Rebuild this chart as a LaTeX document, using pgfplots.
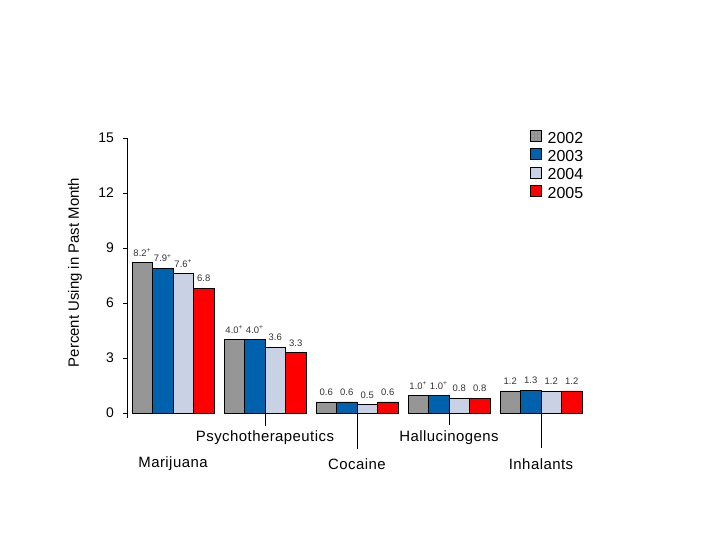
\documentclass[border=0pt]{standalone}
\usepackage{pgfplots}
\pgfplotsset{compat=1.18}
\usepackage{fontspec}
\setmainfont{Liberation Sans}
\newfontfamily\catfont[LetterSpace=3]{Liberation Sans}
\definecolor{c2002}{HTML}{969696}
\definecolor{c2003}{HTML}{0062AC}
\definecolor{c2004}{HTML}{C8D2E4}
\definecolor{c2005}{HTML}{FF0000}
\begin{document}
\begin{tikzpicture}
\path[use as bounding box, fill=white] (0bp,0bp) rectangle (720bp,540bp);
\begin{axis}[
  at={(127bp,127bp)}, anchor=south west,
  scale only axis, width=460bp, height=275bp,
  xmin=-0.5, xmax=4.5, ymin=0, ymax=15,
  ybar=0pt, bar width=0.2228,
  axis x line=none, axis y line*=left,
  y axis line style={black, line width=0.6bp},
  ytick={0,3,6,9,12,15}, xtick=\empty,
  tick align=outside, major tick length=4bp,
  ytick style={black, line width=0.6bp},
  /pgf/number format/assume math mode=true,
  yticklabel style={font=\fontsize{14}{15}\selectfont, inner sep=3bp, xshift=-6bp},
  ylabel={Percent Using in Past Month},
  ylabel style={at={(axis description cs:-0.113,0.511)}, anchor=center, font=\fontsize{15}{16}\selectfont},
  clip=false,
  point meta=explicit symbolic,
  nodes near coords,
  every node near coord/.append style={font=\fontsize{9.5}{10}\selectfont, inner sep=1bp, yshift=5bp, text=black!80},
  legend style={at={(axis description cs:0.876,1.029)}, anchor=north west, draw=none, fill=none,
    inner sep=0pt, row sep=0pt, column sep=6bp,
    nodes={inner sep=0pt, text height=12bp, text depth=5bp},
    font=\fontsize{16}{17}\selectfont},
  legend cell align=left,
  legend image code/.code={\draw[#1, line width=0.5bp] (0bp,-1.5bp) rectangle (11bp,9.5bp);},
]
\addplot[fill=c2002, draw=black, line width=0.5bp] coordinates {
  (0,8.2) [8.2\textsuperscript{+}]
  (1,4.0) [4.0\textsuperscript{+}]
  (2,0.6) [0.6]
  (3,0.95) [1.0\textsuperscript{+}]
  (4,1.2) [1.2]
};
\addplot[fill=c2003, draw=black, line width=0.5bp] coordinates {
  (0,7.9) [7.9\textsuperscript{+}]
  (1,4.0) [4.0\textsuperscript{+}]
  (2,0.6) [0.6]
  (3,0.95) [1.0\textsuperscript{+}]
  (4,1.25) [1.3]
};
\addplot[fill=c2004, draw=black, line width=0.5bp] coordinates {
  (0,7.6) [7.6\textsuperscript{+}]
  (1,3.6) [3.6]
  (2,0.45) [0.5]
  (3,0.8) [0.8]
  (4,1.2) [1.2]
};
\addplot[fill=c2005, draw=black, line width=0.5bp] coordinates {
  (0,6.8) [6.8]
  (1,3.3) [3.3]
  (2,0.6) [0.6]
  (3,0.8) [0.8]
  (4,1.2) [1.2]
};
\legend{2002,2003,2004,2005}
\draw[black, line width=0.6bp] (axis cs:-0.5,0) -- ++(0bp,-5bp);
\draw[black, line width=0.6bp] (axis cs:1,0) -- ++(0bp,-13bp);
\draw[black, line width=0.6bp] (axis cs:2,0) -- ++(0bp,-36bp);
\draw[black, line width=0.6bp] (axis cs:3,0) -- ++(0bp,-12bp);
\draw[black, line width=0.6bp] (axis cs:4,0) -- ++(0bp,-35bp);
\node[font=\catfont\fontsize{15}{16}\selectfont] at (axis cs:1,0) [yshift=-25bp] {Psychotherapeutics};
\node[font=\catfont\fontsize{15}{16}\selectfont] at (axis cs:3,0) [yshift=-25bp] {Hallucinogens};
\node[font=\catfont\fontsize{15}{16}\selectfont] at (axis cs:0,0) [yshift=-51bp] {Marijuana};
\node[font=\catfont\fontsize{15}{16}\selectfont] at (axis cs:2,0) [yshift=-51bp] {Cocaine};
\node[font=\catfont\fontsize{15}{16}\selectfont] at (axis cs:4,0) [yshift=-51bp] {Inhalants};
\end{axis}
\end{tikzpicture}
\end{document}
